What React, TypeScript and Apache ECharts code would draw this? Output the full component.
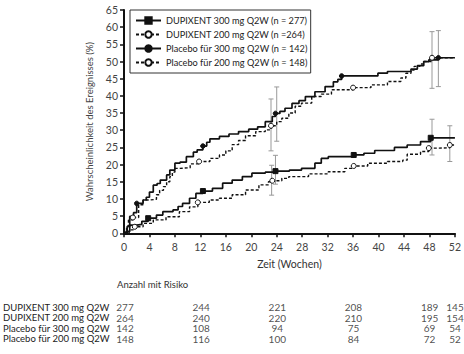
import React, { useEffect, useRef } from "react";
import * as echarts from "echarts";

const FONT = "Lato";

const seriesNames = [
  "DUPIXENT 300 mg Q2W (n = 277)",
  "DUPIXENT 200 mg Q2W (n =264)",
  "Placebo für 300 mg Q2W (n = 142)",
  "Placebo für 200 mg Q2W (n = 148)",
];

const xTicks = { min: 0, max: 52, interval: 4 };
const yTicks = { min: 0, max: 65, interval: 5 };

// Kaplan-Meier style step points: [week, cumulative %]
const dupi300: [number, number][] = [
  [0, 0], [0.3, 0.5], [0.9, 2.4], [2, 2.6], [2.8, 3.5], [3.8, 4.4], [5.1, 5.3], [6.1, 6.3],
  [7.7, 6.8], [8.5, 7.8], [9.2, 8.7], [10.3, 10.2], [11.3, 11.6], [12.4, 12.3], [13.9, 13.1],
  [15.5, 14.6], [17, 15.5], [18.6, 16.5], [20.1, 17.5], [22.2, 17.8], [23.8, 18.1], [26, 18.4],
  [27.9, 18.9], [30, 20.4], [31, 21.8], [32.1, 22.3], [36.1, 22.8], [37.7, 23.3], [39.4, 24.1],
  [42.5, 25], [44.5, 25.7], [46.6, 26.7], [48.2, 27.8], [52, 27.8],
];
const dupi200: [number, number][] = [
  [0, 0], [0.8, 1], [1.7, 1.9], [3, 2.9], [4.6, 3.9], [6.6, 4.8], [8.7, 6.3], [10.3, 7.7],
  [11.6, 9], [13.4, 9.7], [15, 10.2], [17, 11.2], [19.1, 12.6], [21.2, 14.1], [22.7, 15],
  [23.3, 15.3], [24.8, 16], [25.9, 16.5], [29, 17.3], [32.1, 17.9], [34.7, 18.9], [36.1, 19.6],
  [38.3, 20.4], [41.4, 20.9], [43.8, 21.3], [44.5, 23], [46.6, 23.8], [47.9, 24.8], [49.5, 24.9],
  [51.2, 25.7], [52, 25.7],
];
const placebo300: [number, number][] = [
  [0, 0], [0.5, 2], [0.9, 4.9], [1.5, 6], [2, 8.7], [3, 9.7], [3.5, 10.5], [4, 12], [4.6, 14],
  [5.2, 14.5], [5.7, 15.5], [6.7, 17], [7.2, 18.4], [8, 20.4], [8.8, 20.7], [9.8, 22.3],
  [10.9, 23.6], [11.5, 24.3], [12.4, 25.4], [13, 26.5], [13.5, 27.5], [15, 28.2], [16.5, 28.9],
  [18, 29.6], [19.6, 30.3], [21, 31], [22.2, 32.5], [23.3, 34], [23.8, 34.9], [24.5, 35.5],
  [25.3, 36.4], [26.4, 37.8], [27.5, 38.6], [28.5, 39.8], [30, 41.2], [31.6, 42.7], [32.9, 44.1],
  [33.6, 44.8], [34.2, 45.8], [39.9, 46.6], [41.4, 47.1], [45.1, 47.8], [46.1, 48.8], [47.1, 50],
  [47.9, 50.5], [49.4, 51.1], [52, 51.1],
];
const placebo200: [number, number][] = [
  [0, 0], [0.4, 2], [0.7, 3.9], [1.4, 4.6], [2.3, 8.3], [3, 9.7], [4.1, 9.9], [5.1, 11.2],
  [5.6, 12.5], [6.2, 13.6], [6.7, 15], [7.2, 16.5], [7.6, 17.8], [8, 18.9], [8.8, 19.1],
  [10.4, 20.2], [11.8, 20.9], [13.5, 21.8], [15, 22.8], [16, 24], [17, 25.8], [18, 27],
  [19.1, 28.4], [20.7, 29.6], [22.2, 30.1], [23.1, 31.3], [24, 32.5], [24.8, 33.5], [25.9, 35],
  [26.9, 37], [27.9, 37.9], [29.5, 39.8], [31, 40.5], [32.6, 41.8], [36, 42.4], [38.8, 43.2],
  [41.4, 44.2], [43.5, 45.2], [44.3, 46.6], [45.1, 47.5], [45.6, 48.6], [46.5, 49.3], [47.1, 50],
  [48.4, 51.1], [52, 51.1],
];

// weeks at which a marker is drawn on each curve
const dupi300Marks = [3.8, 12.4, 23.8, 36.1, 48.2];
const dupi200Marks = [1.7, 11.6, 23.3, 36.1, 47.9, 51.2];
const placebo300Marks = [2, 12.4, 23.8, 34.2, 49.4];
const placebo200Marks = [1.4, 11.8, 23.1, 36, 48.4];

// error bars: [week, lower, upper]
const dupi300Err: [number, number, number][] = [[23.8, 14.3, 22.7], [48.4, 22.8, 33.2]];
const dupi200Err: [number, number, number][] = [[23.2, 11.1, 19.8], [51.2, 20.9, 31.3]];
const placebo300Err: [number, number, number][] = [[24, 26.8, 42.6], [49.4, 42.7, 59]];
const placebo200Err: [number, number, number][] = [[23.1, 24, 39.1], [48.4, 42.2, 58.7]];

// number at risk table
const riskTitle = "Anzahl mit Risiko";
const riskRows = [
  "DUPIXENT 300 mg Q2W",
  "DUPIXENT 200 mg Q2W",
  "Placebo für 300 mg Q2W",
  "Placebo für 200 mg Q2W",
];
const riskWeeks = [0, 12, 24, 36, 48, 52];
const riskDupi300 = [277, 244, 221, 208, 189, 145];
const riskDupi200 = [264, 240, 220, 210, 195, 154];
const riskPlacebo300 = [142, 108, 94, 75, 69, 54];
const riskPlacebo200 = [148, 116, 100, 84, 72, 52];

const xName = "Zeit (Wochen)";
const yName = "Wahrscheinlichkeit des Ereignisses (%)";

function lineData(points: [number, number][], marks: number[]) {
  return points.map(([w, v]) =>
    marks.includes(w) ? { value: [w, v] } : { value: [w, v], symbol: "none" }
  );
}

export default function App() {
  const ref = useRef<HTMLDivElement>(null);
  useEffect(() => {
    const chart = echarts.init(ref.current!, null, { renderer: "svg" });
    const black = "#111";
    const mkLine = (
      name: string,
      pts: [number, number][],
      marks: number[],
      dashed: boolean,
      symbol: string,
      symbolSize: number
    ) => ({
      name,
      type: "line",
      xAxisIndex: 0,
      yAxisIndex: 0,
      step: "end",
      data: lineData(pts, marks),
      symbol,
      symbolSize,
      showSymbol: true,
      showAllSymbol: true,
      z: 3,
      lineStyle: { color: black, width: dashed ? 1.4 : 1.7, type: dashed ? [3, 2] : "solid" },
      itemStyle: { color: dashed ? "#fff" : black, borderColor: black, borderWidth: 1 },
      emphasis: { disabled: true },
    });

    const errData = [...dupi300Err, ...dupi200Err, ...placebo300Err, ...placebo200Err];
    const riskAll = [riskDupi300, riskDupi200, riskPlacebo300, riskPlacebo200];
    const tableData: any[] = [];
    riskAll.forEach((row, r) =>
      row.forEach((n, i) => tableData.push([riskWeeks[i], riskRows[r], n]))
    );

    const option: any = {
      animation: false,
      textStyle: { fontFamily: FONT },
      grid: [
        { left: 124, right: 5, top: 10, height: 223.3 },
        { left: 124, right: 9, top: 302, height: 42 },
      ],
      xAxis: [
        {
          type: "value",
          gridIndex: 0,
          ...xTicks,
          name: xName,
          nameLocation: "middle",
          nameGap: 25,
          nameTextStyle: { fontSize: 10.5, color: "#333", fontFamily: FONT },
          axisLine: { lineStyle: { color: black, width: 2 } },
          axisTick: { show: true, length: 4, lineStyle: { color: black, width: 1.5 } },
          axisLabel: { fontSize: 10.5, color: "#444", margin: 8, fontFamily: FONT },
          splitLine: { show: false },
        },
        {
          type: "value",
          gridIndex: 1,
          ...xTicks,
          show: false,
        },
      ],
      yAxis: [
        {
          type: "value",
          gridIndex: 0,
          ...yTicks,
          name: yName,
          nameLocation: "middle",
          nameRotate: 90,
          nameGap: 26,
          nameTextStyle: { fontSize: 9.5, color: "#444", fontFamily: FONT },
          axisLine: { show: true, lineStyle: { color: black, width: 2 } },
          axisTick: { show: true, length: 4, lineStyle: { color: black, width: 1.5 } },
          axisLabel: { fontSize: 10.5, color: "#444", margin: 6, fontFamily: FONT },
          splitLine: { show: false },
        },
        {
          type: "category",
          gridIndex: 1,
          data: riskRows,
          inverse: true,
          axisLine: { show: false },
          axisTick: { show: false },
          axisLabel: {
            interval: 0,
            align: "left",
            margin: 122,
            fontSize: 9.5,
            lineHeight: 10,
            color: "#222",
            fontFamily: FONT,
          },
        },
      ],
      legend: {
        data: seriesNames,
        orient: "vertical",
        left: 130,
        top: 10,
        itemWidth: 25,
        itemHeight: 8,
        itemGap: 3,
        padding: [5, 3, 5, 5],
        borderColor: "#333",
        borderWidth: 1,
        selectedMode: false,
        textStyle: { fontSize: 9.2, lineHeight: 11, color: "#222", fontFamily: FONT },
      },
      graphic: [
        {
          type: "text",
          left: 117,
          top: 279,
          style: { text: riskTitle, fontSize: 9.5, fill: "#333", fontFamily: FONT },
        },
      ],
      series: [
        mkLine(seriesNames[0], dupi300, dupi300Marks, false, "rect", 5),
        mkLine(seriesNames[1], dupi200, dupi200Marks, true, "circle", 5),
        mkLine(seriesNames[2], placebo300, placebo300Marks, false, "circle", 4.5),
        mkLine(seriesNames[3], placebo200, placebo200Marks, true, "circle", 5),
        {
          type: "custom",
          name: "ci",
          xAxisIndex: 0,
          yAxisIndex: 0,
          z: 2,
          data: errData,
          encode: { x: 0, y: [1, 2] },
          renderItem: (params: any, api: any) => {
            const x = api.value(0);
            const p1 = api.coord([x, api.value(1)]);
            const p2 = api.coord([x, api.value(2)]);
            const c = 2.5;
            const style = { stroke: "#999", lineWidth: 1, fill: "none" };
            return {
              type: "group",
              children: [
                { type: "line", shape: { x1: p1[0], y1: p1[1], x2: p2[0], y2: p2[1] }, style },
                { type: "line", shape: { x1: p1[0] - c, y1: p1[1], x2: p1[0] + c, y2: p1[1] }, style },
                { type: "line", shape: { x1: p2[0] - c, y1: p2[1], x2: p2[0] + c, y2: p2[1] }, style },
              ],
            };
          },
        },
        {
          type: "scatter",
          name: "risk",
          xAxisIndex: 1,
          yAxisIndex: 1,
          data: tableData,
          encode: { x: 0, y: 1 },
          symbolSize: 1,
          itemStyle: { color: "rgba(0,0,0,0)" },
          label: {
            show: true,
            position: "inside",
            formatter: (p: any) => String(p.value[2]),
            fontSize: 10,
            lineHeight: 10,
            color: "#222",
            fontFamily: FONT,
          },
          emphasis: { disabled: true },
        },
      ],
    };
    chart.setOption(option);
    return () => chart.dispose();
  }, []);
  return (
    <div
      ref={ref}
      style={{ position: "fixed", left: 0, top: 0, width: 464, height: 354, background: "#fff" }}
    />
  );
}
